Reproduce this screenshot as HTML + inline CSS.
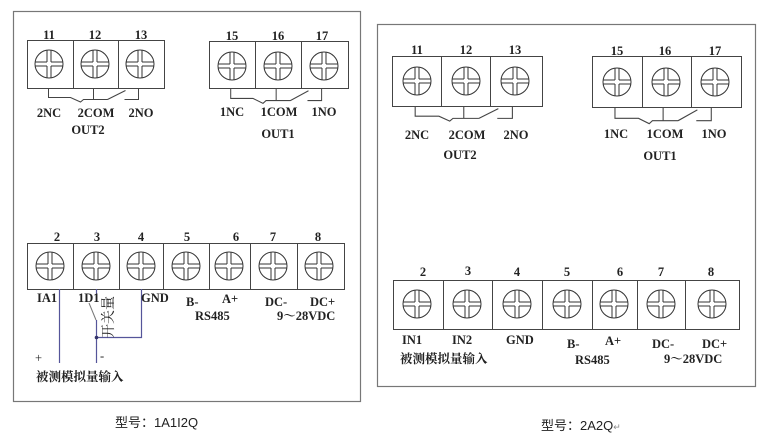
<!DOCTYPE html>
<html><head><meta charset="utf-8"><style>
html,body{margin:0;padding:0;background:#fff}
svg{display:block}
.t{font-family:"Liberation Serif","Noto Serif CJK SC",serif;font-weight:bold;font-size:12.5px;fill:#222}
.c{font-family:"Liberation Sans","Noto Sans CJK SC",sans-serif;font-size:13px;fill:#222}
</style></head><body>
<svg width="768" height="439" viewBox="0 0 768 439" xmlns="http://www.w3.org/2000/svg">
<defs>
<g id="scr" stroke="#333" stroke-width="1" fill="none">
<circle cx="0" cy="0" r="14"/>
<path d="M-13.8 -2H-2M2 -2H13.8M-13.8 2H-2M2 2H13.8M-2 -13.8V-2M-2 2V13.8M2 -13.8V-2M2 2V13.8"/>
</g>
<g id="relay" stroke="#444" stroke-width="1" fill="none">
<path d="M21 0V9H43L53 13.5L56 11H80M66 0V11M80 11L98 2M97 11H111V0"/>
</g>
</defs>
<g fill="none" stroke="#777" stroke-width="1.2">
<rect x="13.5" y="11.5" width="347" height="390"/>
<rect x="377.5" y="24.5" width="378" height="362"/>
</g>
<g fill="none" stroke="#444" stroke-width="1">
<rect x="27.5" y="40.5" width="137" height="48"/><path d="M73.5 40.5V88.5M118.5 40.5V88.5"/>
<rect x="209.5" y="41.5" width="139" height="47"/><path d="M255.5 41.5V88.5M301.5 41.5V88.5"/>
<rect x="27.5" y="243.5" width="317" height="46"/><path d="M73.5 243.5V289.5M119.5 243.5V289.5M163.5 243.5V289.5M209.5 243.5V289.5M250.5 243.5V289.5M297.5 243.5V289.5"/>
<rect x="392.5" y="56.5" width="150" height="50"/><path d="M441.5 56.5V106.5M490.5 56.5V106.5"/>
<rect x="592.5" y="56.5" width="149" height="51"/><path d="M642.5 56.5V107.5M691.5 56.5V107.5"/>
<rect x="393.5" y="280.5" width="346" height="49"/><path d="M443.5 280.5V329.5M492.5 280.5V329.5M542.5 280.5V329.5M592.5 280.5V329.5M637.5 280.5V329.5M685.5 280.5V329.5"/>
</g>
<use href="#scr" x="49" y="64"/><use href="#scr" x="95" y="64"/><use href="#scr" x="140" y="64"/>
<use href="#scr" x="232" y="66"/><use href="#scr" x="278" y="66"/><use href="#scr" x="324" y="66"/>
<use href="#scr" x="50" y="266"/><use href="#scr" x="96" y="266"/><use href="#scr" x="141" y="266"/><use href="#scr" x="186" y="266"/><use href="#scr" x="229" y="266"/><use href="#scr" x="273" y="266"/><use href="#scr" x="319" y="266"/>
<use href="#scr" x="417" y="81"/><use href="#scr" x="466" y="81"/><use href="#scr" x="515" y="81"/>
<use href="#scr" x="617" y="82"/><use href="#scr" x="666" y="82"/><use href="#scr" x="715" y="82"/>
<use href="#scr" x="417" y="304"/><use href="#scr" x="467" y="304"/><use href="#scr" x="517" y="304"/><use href="#scr" x="567" y="304"/><use href="#scr" x="614" y="304"/><use href="#scr" x="661" y="304"/><use href="#scr" x="712" y="304"/>
<use href="#relay" transform="translate(27.5,88.5)"/>
<use href="#relay" transform="translate(209.5,88.5) scale(1.01,1.1)"/>
<use href="#relay" transform="translate(392.5,106.5) scale(1.08)"/>
<use href="#relay" transform="translate(592.5,107.5) scale(1.07,1.2)"/>
<g stroke="#55559a" stroke-width="1.2" fill="none">
<path d="M59.5 289V363M96.5 289V300M96.5 320V363M96.5 337.5H141.5V289"/>
</g>
<path d="M89 303L96 320" stroke="#777" fill="none"/>
<circle cx="96.5" cy="337.5" r="1.8" fill="#33336a"/>
<text class="t" transform="translate(113,317) rotate(-90)" text-anchor="middle" style="font-weight:normal;font-size:14px">开关量</text>
<g class="t" text-anchor="middle">
<text x="49" y="39">11</text><text x="95" y="39">12</text><text x="141" y="39">13</text>
<text x="232" y="40">15</text><text x="278" y="40">16</text><text x="322" y="40">17</text>
<text x="49" y="117">2NC</text><text x="96" y="117">2COM</text><text x="141" y="117">2NO</text>
<text x="88" y="134">OUT2</text>
<text x="232" y="116">1NC</text><text x="279" y="116">1COM</text><text x="324" y="116">1NO</text>
<text x="278" y="138">OUT1</text>
<text x="57" y="241">2</text><text x="97" y="241">3</text><text x="141" y="241">4</text><text x="187" y="241">5</text><text x="236" y="241">6</text><text x="273" y="241">7</text><text x="318" y="241">8</text>
</g>
<g class="t">
<text x="37" y="302">IA1</text><text x="78" y="302">1D1</text><text x="141" y="302">GND</text>
<text x="186" y="306">B-</text><text x="222" y="303">A+</text><text x="265" y="306">DC-</text><text x="310" y="306">DC+</text>
<text x="195" y="320">RS485</text><text x="277" y="320">9～28VDC</text>
<text x="35" y="362" style="font-weight:normal">+</text><text x="100" y="360" style="font-weight:normal">-</text>
<text x="36" y="381">被测模拟量输入</text>
</g>
<text class="c" x="115" y="427">型号：1A1I2Q</text>
<g class="t" text-anchor="middle">
<text x="417" y="54">11</text><text x="466" y="54">12</text><text x="515" y="54">13</text>
<text x="617" y="55">15</text><text x="665" y="55">16</text><text x="715" y="55">17</text>
<text x="417" y="139">2NC</text><text x="467" y="139">2COM</text><text x="516" y="139">2NO</text>
<text x="460" y="159">OUT2</text>
<text x="616" y="138">1NC</text><text x="665" y="138">1COM</text><text x="714" y="138">1NO</text>
<text x="660" y="160">OUT1</text>
<text x="423" y="276">2</text><text x="468" y="275">3</text><text x="517" y="276">4</text><text x="567" y="276">5</text><text x="620" y="276">6</text><text x="661" y="276">7</text><text x="711" y="276">8</text>
</g>
<g class="t">
<text x="402" y="344">IN1</text><text x="452" y="344">IN2</text><text x="506" y="344">GND</text>
<text x="567" y="348">B-</text><text x="605" y="345">A+</text><text x="652" y="348">DC-</text><text x="702" y="348">DC+</text>
<text x="400" y="363">被测模拟量输入</text><text x="575" y="364">RS485</text><text x="664" y="363">9～28VDC</text>
</g>
<text class="c" x="541" y="430">型号：2A2Q<tspan font-size="9" fill="#888">↵</tspan></text>
</svg>
</body></html>
